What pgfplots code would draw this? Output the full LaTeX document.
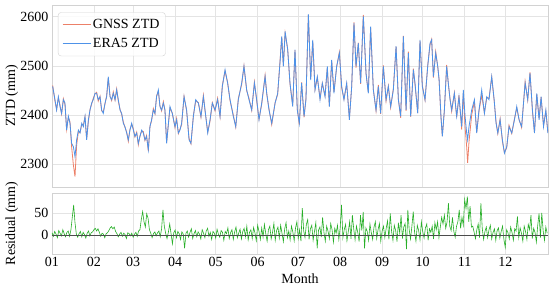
\documentclass[border=0pt]{standalone}
\usepackage{fontspec}
\setmainfont{Liberation Serif}
\usepackage{pgfplots}
\usepackage{pgfplotstable}
\pgfplotsset{compat=1.18}

\definecolor{gnss}{RGB}{236,128,104}
\definecolor{era}{RGB}{78,146,232}
\definecolor{resc}{RGB}{40,175,40}
\definecolor{framec}{RGB}{210,210,210}
\definecolor{gridc}{RGB}{228,228,228}

% day of year, ERA5 ZTD, GNSS ZTD (mm)
\pgfplotstableread[row sep=\\]{
d e g\\
0.5 2458 2460\\ 2.2 2431 2428\\ 3.4 2410 2411\\ 4.7 2437 2435\\ 5.9 2417 2420\\
7.1 2403 2402\\ 8.4 2431 2433\\ 9.6 2424 2421\\ 10.8 2369 2370\\ 12.1 2397 2395\\
13.3 2383 2386\\ 14.5 2342 2335\\ 15.8 2335 2298\\ 17.0 2315 2274\\ 18.2 2349 2338\\
19.5 2369 2366\\ 20.7 2363 2364\\ 22.0 2383 2381\\ 23.2 2376 2379\\ 24.4 2397 2396\\
25.6 2349 2351\\ 26.9 2390 2387\\ 28.1 2410 2411\\ 29.3 2424 2422\\ 30.5 2431 2434\\
31.8 2444 2443\\ 33.0 2444 2446\\ 34.2 2431 2428\\ 35.5 2437 2438\\ 36.7 2410 2408\\
37.9 2403 2406\\ 39.2 2424 2423\\ 40.4 2437 2439\\ 41.6 2478 2475\\ 42.9 2437 2438\\
44.1 2431 2429\\ 45.3 2444 2447\\ 46.6 2431 2430\\ 47.8 2451 2453\\ 49.0 2431 2428\\
50.3 2410 2411\\ 51.5 2403 2401\\ 52.7 2383 2386\\ 53.9 2376 2375\\ 55.2 2363 2365\\
56.4 2349 2346\\ 57.6 2369 2370\\ 58.9 2383 2381\\ 60.1 2369 2372\\ 61.3 2356 2355\\
62.6 2363 2365\\ 63.8 2342 2339\\ 65.0 2356 2357\\ 66.3 2369 2367\\ 67.5 2363 2366\\
68.7 2349 2348\\ 69.9 2356 2358\\ 71.2 2329 2326\\ 72.4 2376 2377\\ 73.6 2390 2388\\
74.9 2410 2413\\ 76.1 2403 2402\\ 77.3 2437 2439\\ 78.6 2451 2448\\ 79.8 2417 2418\\
81.0 2410 2408\\ 82.3 2424 2427\\ 83.5 2410 2409\\ 84.7 2342 2344\\ 87.2 2417 2414\\
88.9 2403 2404\\ 90.9 2376 2374\\ 92.1 2390 2393\\ 93.4 2363 2362\\ 94.6 2369 2371\\
95.8 2383 2380\\ 97.6 2437 2438\\ 99.5 2410 2408\\ 101.3 2349 2352\\ 102.7 2342 2341\\
104.5 2397 2399\\ 106.2 2431 2428\\ 108.2 2424 2425\\ 110.1 2397 2395\\ 111.9 2437 2440\\
113.1 2410 2409\\ 115.1 2363 2365\\ 116.8 2390 2387\\ 118.5 2424 2425\\ 120.5 2410 2408\\
122.4 2431 2434\\ 124.2 2397 2396\\ 125.9 2458 2460\\ 127.9 2492 2489\\ 129.8 2465 2466\\
131.6 2431 2429\\ 134.0 2397 2400\\ 135.8 2376 2375\\ 137.7 2431 2433\\ 140.2 2465 2462\\
141.9 2499 2500\\ 143.9 2451 2449\\ 145.6 2431 2434\\ 147.6 2410 2409\\ 149.6 2465 2467\\
151.3 2431 2428\\ 153.0 2390 2391\\ 155.0 2424 2422\\ 157.5 2478 2481\\ 158.7 2444 2443\\
160.4 2410 2412\\ 162.4 2383 2380\\ 164.9 2424 2425\\ 166.8 2444 2442\\ 168.5 2506 2509\\
169.8 2560 2559\\ 171.0 2499 2501\\ 172.3 2570 2567\\ 174.2 2533 2534\\ 175.9 2465 2463\\
177.9 2417 2420\\ 179.6 2533 2532\\ 181.3 2410 2412\\ 182.8 2383 2380\\ 184.5 2465 2466\\
186.3 2397 2395\\ 187.7 2431 2434\\ 189.5 2605 2604\\ 191.2 2471 2473\\ 192.7 2553 2550\\
194.4 2451 2452\\ 196.1 2478 2476\\ 198.1 2431 2434\\ 199.8 2465 2464\\ 201.8 2437 2439\\
203.5 2499 2496\\ 205.0 2417 2418\\ 206.7 2512 2510\\ 208.4 2444 2447\\ 210.4 2499 2498\\
212.4 2526 2528\\ 214.1 2458 2455\\ 215.8 2431 2432\\ 217.8 2465 2463\\ 219.8 2390 2393\\
221.5 2458 2457\\ 223.2 2587 2589\\ 224.7 2499 2496\\ 226.4 2546 2547\\ 228.1 2465 2463\\
230.1 2601 2604\\ 232.1 2485 2484\\ 233.8 2444 2446\\ 235.5 2580 2577\\ 237.5 2451 2452\\
239.5 2410 2408\\ 241.2 2458 2461\\ 242.9 2403 2402\\ 244.9 2499 2501\\ 246.9 2431 2428\\
248.6 2458 2459\\ 250.3 2417 2415\\ 252.3 2451 2454\\ 254.3 2540 2539\\ 256.0 2431 2433\\
257.7 2397 2394\\ 259.7 2560 2561\\ 261.7 2410 2408\\ 263.4 2526 2529\\ 265.1 2397 2396\\
267.1 2492 2494\\ 268.3 2465 2462\\ 270.3 2403 2404\\ 272.0 2553 2551\\ 273.7 2458 2461\\
275.7 2431 2430\\ 277.7 2499 2501\\ 279.4 2546 2543\\ 280.6 2553 2554\\ 281.9 2478 2476\\
283.6 2526 2529\\ 285.1 2499 2498\\ 286.1 2471 2473\\ 287.5 2397 2394\\ 288.5 2356 2357\\
290.0 2410 2408\\ 291.7 2499 2502\\ 292.9 2465 2464\\ 294.2 2431 2433\\ 295.4 2410 2407\\
297.4 2444 2445\\ 299.1 2397 2395\\ 300.8 2437 2440\\ 302.8 2376 2370\\ 304.0 2451 2445\\
305.3 2397 2375\\ 306.5 2363 2335\\ 307.2 2349 2302\\ 308.2 2376 2345\\ 310.2 2410 2400\\
312.2 2431 2428\\ 313.9 2363 2364\\ 315.6 2410 2408\\ 317.6 2451 2440\\ 319.6 2403 2404\\
321.3 2437 2435\\ 323.0 2431 2434\\ 325.0 2478 2477\\ 326.8 2431 2429\\ 328.2 2383 2386\\
329.5 2363 2362\\ 331.2 2390 2392\\ 332.9 2349 2346\\ 334.4 2322 2323\\ 336.1 2335 2333\\
337.8 2376 2379\\ 339.8 2363 2362\\ 341.8 2390 2392\\ 343.5 2417 2414\\ 345.2 2390 2391\\
347.1 2376 2374\\ 349.7 2465 2468\\ 351.6 2431 2430\\ 353.3 2485 2487\\ 355.1 2410 2407\\
356.6 2363 2364\\ 358.3 2444 2442\\ 360.0 2390 2393\\ 361.5 2437 2436\\ 363.3 2376 2378\\
365.0 2410 2408\\ 366.5 2363 2365\\
}\ztd

% daily residual (mm), day 0 .. 366
\pgfplotstableread[row sep=\\]{
r\\
5\\ -3\\ 8\\ 2\\ -6\\ 10\\ 4\\ -2\\ 12\\ 3\\
-4\\ 6\\ 9\\ -3\\ 12\\ 40\\ 68\\ 28\\ 2\\ -5\\
3\\ 8\\ -4\\ 6\\ 1\\ -7\\ 4\\ 9\\ -2\\ 5\\
7\\ 12\\ 15\\ 9\\ 14\\ 6\\ -3\\ 4\\ 2\\ -6\\
3\\ 5\\ 10\\ 16\\ 19\\ 14\\ 18\\ 8\\ 3\\ -4\\
2\\ 6\\ -3\\ 4\\ 1\\ -8\\ 5\\ 3\\ -2\\ 4\\
-5\\ 2\\ 6\\ -3\\ 9\\ 12\\ 35\\ 53\\ 30\\ 18\\
48\\ 38\\ 12\\ 4\\ -6\\ 3\\ 7\\ -2\\ 5\\ 9\\
-4\\ 14\\ 57\\ 20\\ 4\\ -8\\ 6\\ 25\\ 3\\ -20\\
5\\ 11\\ -6\\ 8\\ 3\\ -10\\ 7\\ 2\\ -30\\ 4\\
9\\ -5\\ 6\\ 14\\ -8\\ 3\\ 10\\ -4\\ 7\\ 2\\
-9\\ 12\\ 4\\ -6\\ 9\\ 15\\ -3\\ 6\\ -10\\ 8\\
4\\ -7\\ 13\\ 2\\ -5\\ 10\\ 6\\ -12\\ 8\\ 3\\
16\\ -8\\ 5\\ 12\\ -10\\ 7\\ 18\\ -6\\ 4\\ 13\\
-9\\ 8\\ 15\\ -4\\ 20\\ -11\\ 6\\ 12\\ -8\\ 17\\
5\\ -13\\ 22\\ 8\\ -10\\ 16\\ -5\\ 24\\ 3\\ -14\\
12\\ 20\\ -9\\ 6\\ 26\\ -12\\ 10\\ 18\\ -7\\ 22\\
4\\ -15\\ 14\\ 28\\ -6\\ 9\\ -11\\ 20\\ 7\\ -13\\
16\\ 30\\ -8\\ 12\\ -14\\ 61\\ 10\\ -6\\ 24\\ 35\\
-10\\ 14\\ 22\\ -12\\ 8\\ 28\\ -30\\ 11\\ 18\\ -5\\
40\\ 6\\ -14\\ 20\\ 9\\ -8\\ 26\\ 12\\ -16\\ 15\\
4\\ 22\\ -10\\ 16\\ 68\\ -6\\ 12\\ 24\\ -13\\ 8\\
30\\ -9\\ 45\\ 14\\ -11\\ 20\\ 6\\ -15\\ 45\\ 10\\
52\\ -30\\ 16\\ 8\\ -12\\ 25\\ 5\\ -10\\ 18\\ 30\\
-8\\ 12\\ 26\\ -14\\ 9\\ 20\\ -6\\ 15\\ 32\\ -10\\
49\\ 8\\ -12\\ 22\\ 10\\ -15\\ 28\\ 4\\ 45\\ -8\\
18\\ 26\\ -32\\ 57\\ 12\\ -9\\ 20\\ 53\\ 6\\ -14\\
22\\ 10\\ -11\\ 30\\ 8\\ -7\\ 16\\ 25\\ -12\\ 14\\
6\\ 20\\ -9\\ 28\\ 12\\ 30\\ -6\\ 18\\ 40\\ 25\\
45\\ 15\\ 30\\ 72\\ 20\\ 10\\ 40\\ 8\\ -5\\ 20\\
30\\ 57\\ 15\\ 40\\ 22\\ 80\\ 60\\ 87\\ 30\\ 65\\
18\\ 20\\ 6\\ -8\\ 12\\ 25\\ -6\\ 72\\ 15\\ -10\\
8\\ 18\\ -6\\ 12\\ 22\\ -9\\ 6\\ 14\\ -12\\ 10\\
16\\ -7\\ 8\\ 20\\ -10\\ -28\\ 12\\ 5\\ -9\\ 18\\
6\\ -12\\ 14\\ 9\\ 42\\ -6\\ 16\\ 4\\ -14\\ 20\\
8\\ -10\\ 24\\ 12\\ 45\\ -8\\ 15\\ 6\\ -16\\ 22\\
49\\ -6\\ 50\\ 10\\ -12\\ 18\\ 4\\
}\resid

\pgfplotsset{
  panel/.style={
    scale only axis, width=496pt,
    xmin=0, xmax=366.6,
    xtick={0,31,60,91,121,152,182,213,244,274,305,335},
    grid=major,
    major grid style={draw=gridc, line width=0.6pt},
    axis line style={draw=framec, line width=0.8pt},
    major tick length=0pt,
    tick label style={font=\fontsize{14}{16}\selectfont},
    label style={font=\fontsize{14}{16}\selectfont},
    /pgf/number format/assume math mode=true,
    /pgf/number format/1000 sep={},
    ylabel style={at={(axis description cs:-0.081,0.5)}, anchor=center},
  },
}

\begin{document}
\begin{tikzpicture}
\useasboundingbox (0,0) rectangle (550pt,-288pt);

\begin{axis}[panel,
  at={(52pt,-187pt)}, anchor=south west, height=182pt,
  ymin=2253, ymax=2624, ytick={2300,2400,2500,2600},
  xticklabels={},
  ylabel={ZTD (mm)},
  legend style={at={(axis description cs:0.012,0.96)}, anchor=north west,
    draw=framec, rounded corners=3pt, fill=white, fill opacity=0.85,
    text opacity=1, font=\fontsize{14}{16}\selectfont,
    row sep=4pt, inner xsep=4pt, inner ysep=5pt},
  legend cell align=left,
  legend image code/.code={\draw[#1] (0pt,0pt) -- (28pt,0pt);},
]
\addplot[gnss, line width=0.8pt] table[x=d, y=g]{\ztd};
\addlegendentry{GNSS ZTD}
\addplot[era, line width=0.8pt] table[x=d, y=e]{\ztd};
\addlegendentry{ERA5 ZTD}
\end{axis}

\begin{axis}[panel,
  at={(52pt,-254pt)}, anchor=south west, height=61pt,
  ymin=-43, ymax=95, ytick={0,50},
  xticklabels={01,02,03,04,05,06,07,08,09,10,11,12},
  xlabel={Month},
  ylabel={Residual (mm)},
]
\addplot[resc, line width=0.6pt] table[x expr=\coordindex, y=r]{\resid};
\addplot[black!70, line width=0.4pt] coordinates {(0,0) (366.6,0)};
\end{axis}
\end{tikzpicture}
\end{document}
